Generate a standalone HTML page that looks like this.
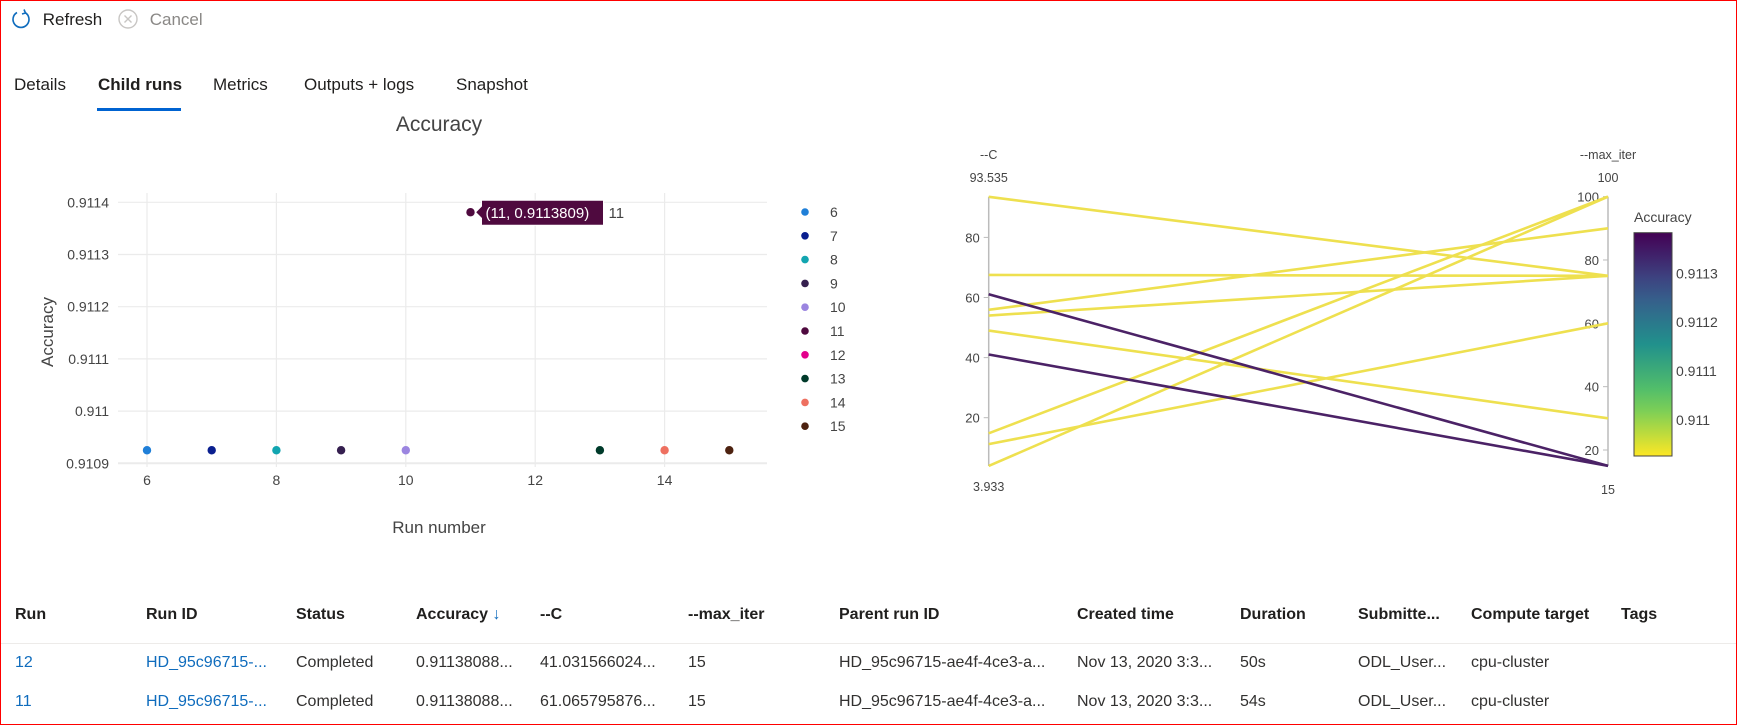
<!DOCTYPE html>
<html><head><meta charset="utf-8"><style>
body{margin:0;width:1737px;height:725px;overflow:hidden;background:#fff;font-family:"Liberation Sans",sans-serif;color:#201f1e}
#frame{position:absolute;left:0;top:0;width:1735px;height:723px;border:1px solid #f00}
.t{position:absolute;white-space:nowrap}
.th{position:absolute;top:606px;font-size:16px;font-weight:600;color:#201f1e}
.td{position:absolute;font-size:16px;color:#323130}
a.td{color:#0f6cbd;text-decoration:none}
</style></head><body>
<div id="frame"></div>
<div class="t" style="left:10px;top:8px;font-size:17px;">
<svg width="22" height="22" style="vertical-align:-5px"><path d="M15 4.5A8 8 0 1 1 7 4.5" fill="none" stroke="#0f6cbd" stroke-width="1.6"/><path d="M14 1.5L15.5 5 12 6" fill="none" stroke="#0f6cbd" stroke-width="1.6"/></svg>
<span style="margin-left:6px">Refresh</span></div>
<div class="t" style="left:117px;top:8px;font-size:17px;color:#8a8886">
<svg width="22" height="22" style="vertical-align:-5px"><circle cx="11" cy="11" r="9" fill="none" stroke="#c8c6c4" stroke-width="1.4"/><path d="M7.5 7.5L14.5 14.5M14.5 7.5L7.5 14.5" stroke="#c8c6c4" stroke-width="1.4"/></svg>
<span style="margin-left:6px">Cancel</span></div>
<div class="t" style="left:14px;top:75px;font-size:17px">Details</div>
<div class="t" style="left:98px;top:75px;font-size:17px;font-weight:bold">Child runs</div>
<div style="position:absolute;left:97px;top:108px;width:84px;height:3px;background:#0063d1"></div>
<div class="t" style="left:213px;top:75px;font-size:17px">Metrics</div>
<div class="t" style="left:304px;top:75px;font-size:17px">Outputs + logs</div>
<div class="t" style="left:456px;top:75px;font-size:17px">Snapshot</div>

<svg id="sc" width="1737" height="560" style="position:absolute;left:0;top:0"></svg>

<div>
<div class="th" style="left:15px">Run</div>
<div class="th" style="left:146px">Run ID</div>
<div class="th" style="left:296px">Status</div>
<div class="th" style="left:416px">Accuracy <span style="color:#0f6cbd;font-weight:normal">↓</span></div>
<div class="th" style="left:540px">--C</div>
<div class="th" style="left:688px">--max_iter</div>
<div class="th" style="left:839px">Parent run ID</div>
<div class="th" style="left:1077px">Created time</div>
<div class="th" style="left:1240px">Duration</div>
<div class="th" style="left:1358px">Submitte...</div>
<div class="th" style="left:1471px">Compute target</div>
<div class="th" style="left:1621px">Tags</div>
<div style="position:absolute;left:1px;top:643px;width:1735px;height:1px;background:#edebe9"></div>
<div>
<a class="td" style="left:15px;top:654px">12</a>
<a class="td" style="left:146px;top:654px">HD_95c96715-...</a>
<div class="td" style="left:296px;top:654px">Completed</div>
<div class="td" style="left:416px;top:654px">0.91138088...</div>
<div class="td" style="left:540px;top:654px">41.031566024...</div>
<div class="td" style="left:688px;top:654px">15</div>
<div class="td" style="left:839px;top:654px">HD_95c96715-ae4f-4ce3-a...</div>
<div class="td" style="left:1077px;top:654px">Nov 13, 2020 3:3...</div>
<div class="td" style="left:1240px;top:654px">50s</div>
<div class="td" style="left:1358px;top:654px">ODL_User...</div>
<div class="td" style="left:1471px;top:654px">cpu-cluster</div>
</div>
<div>
<a class="td" style="left:15px;top:693px">11</a>
<a class="td" style="left:146px;top:693px">HD_95c96715-...</a>
<div class="td" style="left:296px;top:693px">Completed</div>
<div class="td" style="left:416px;top:693px">0.91138088...</div>
<div class="td" style="left:540px;top:693px">61.065795876...</div>
<div class="td" style="left:688px;top:693px">15</div>
<div class="td" style="left:839px;top:693px">HD_95c96715-ae4f-4ce3-a...</div>
<div class="td" style="left:1077px;top:693px">Nov 13, 2020 3:3...</div>
<div class="td" style="left:1240px;top:693px">54s</div>
<div class="td" style="left:1358px;top:693px">ODL_User...</div>
<div class="td" style="left:1471px;top:693px">cpu-cluster</div>
</div>
</div>

<script>
const runs = [6,7,8,9,10,11,12,13,14,15];
const accuracy = [0.910925,0.910925,0.910925,0.910925,0.910925,0.911381,0.911381,0.910925,0.910925,0.910925];
const cParam = [93.5,67.5,55.9,54.0,49.0,61.07,41.03,14.8,11.2,3.933];
const maxIter = [75,75,90,75,30,15,15,100,60,100];
const runColors = ['#1f7fd8','#0a1f8f','#12a5b0','#351f4f','#9b85e0','#4f0a3f','#e3008c','#003a2a','#ee7060','#4d2210'];
const xTicks = [6,8,10,12,14];
const yTicks = [0.9109,0.911,0.9111,0.9112,0.9113,0.9114];
const yTickLabels = ['0.9109','0.911','0.9111','0.9112','0.9113','0.9114'];
const cTicks = [20,40,60,80];
const iterTicks = [20,40,60,80,100];
const cbTicks = [0.911,0.9111,0.9112,0.9113];
const shownRuns = [6,7,8,9,10,11,13,14,15];

const NS='http://www.w3.org/2000/svg';
const svg=document.getElementById('sc');
function mk(tag,attrs,parent){const e=document.createElementNS(NS,tag);for(const k in attrs)e.setAttribute(k,attrs[k]);(parent||svg).appendChild(e);return e;}
function txt(x,y,s,attrs){const e=mk('text',Object.assign({x:x,y:y,'font-family':'Liberation Sans, sans-serif'},attrs||{}));e.textContent=s;return e;}

// scatter axes
const xS=v=>147+(v-6)*64.7;
const yS=v=>463.3-(v-0.9109)/0.0001*52.2;
const title=txt(439,131,'Accuracy',{'font-size':21,'text-anchor':'middle',fill:'#444'});


xTicks.forEach(t=>{
  const l=mk('line',{x1:xS(t),x2:xS(t),y1:193,y2:467,stroke:'#ebebeb','stroke-width':1.2});
  
  
  const tl=txt(xS(t),485,String(t),{'font-size':14,'text-anchor':'middle',fill:'#444'});
  
  
});
yTicks.forEach((t,i)=>{
  const l=mk('line',{x1:118,x2:767,y1:yS(t),y2:yS(t),stroke:'#ebebeb','stroke-width':i==0?2:1.2});
  
  
  const tl=txt(109,yS(t)+5,yTickLabels[i],{'font-size':14,'text-anchor':'end',fill:'#444'});
  
  
});
const xt=txt(439,533,'Run number',{'font-size':17,'text-anchor':'middle',fill:'#444'});


const yt=txt(0,0,'Accuracy',{'font-size':17,'text-anchor':'middle',fill:'#444',transform:'translate(53,332) rotate(-90)'});


runs.forEach((r,i)=>{
  if(shownRuns.indexOf(r)<0)return;
  const c=mk('circle',{cx:xS(r),cy:yS(accuracy[i]),r:4.2,fill:runColors[i]});
  
  
});
// tooltip on run 11
const i11=runs.indexOf(11);
const tx=xS(11), ty=yS(accuracy[i11]);
const tip=mk('g',{});


mk('path',{d:`M${tx+5} ${ty} L${tx+11} ${ty-6} L${tx+11} ${ty-12} L${tx+133} ${ty-12} L${tx+133} ${ty+13} L${tx+11} ${ty+13} L${tx+11} ${ty+6} Z`,fill:runColors[i11],stroke:'#fff','stroke-width':1},tip);
const t1=txt(tx+15,ty+6,'(11, '+accuracy[i11].toFixed(7).replace(/0+$/,'')+'09'.slice(0,0)+')',{'font-size':15,fill:'#fff'},);
t1.textContent='(11, 0.9113809)';
tip.appendChild(t1);
tip.appendChild(txt(tx+138,ty+6,'11',{'font-size':15,fill:'#444'}));
// legend
runs.forEach((r,i)=>{
  const g=mk('g',{});
  
  
  const y=212+i*23.8;
  mk('circle',{cx:805,cy:y,r:3.8,fill:runColors[i]},g);
  g.appendChild(txt(830,y+5,String(r),{'font-size':14,fill:'#444'}));
});

// parallel coordinates
const AX1=988.7, AX2=1608;
const cY=v=>417.7-(v-20)*3.005;
const iY=v=>450-(v-20)*3.167;
const cmin=3.933,cmax=93.535;
const accMin=0.910926, accMax=0.911383;
function viridis(t){const st=[[253,231,37],[94,201,98],[33,145,140],[59,82,139],[68,1,84]];const p=t*4,i=Math.min(3,Math.floor(p)),f=p-i;return 'rgb('+st[i].map((v,k)=>Math.round(v+(st[i+1][k]-v)*f)).join(',')+')';}
[[AX1,cY(cmax),cY(cmin)],[AX2,iY(100),iY(15)]].forEach((a,k)=>{
  const l=mk('line',{x1:a[0],x2:a[0],y1:a[1],y2:a[2],stroke:'#bbb','stroke-width':1.5});
  
  
});
cTicks.forEach(t=>{mk('line',{x1:AX1-5,x2:AX1,y1:cY(t),y2:cY(t),stroke:'#bbb'});const e=txt(AX1-9,cY(t)+5,String(t),{'font-size':13,'text-anchor':'end',fill:'#444'});});
iterTicks.forEach(t=>{mk('line',{x1:AX2-5,x2:AX2,y1:iY(t),y2:iY(t),stroke:'#bbb'});const e=txt(AX2-9,iY(t)+5,String(t),{'font-size':13,'text-anchor':'end',fill:'#444'});});
[[AX1,155,'--C'],[AX1,178,'93.535'],[AX1,487,'3.933'],[AX2,155,'--max_iter'],[AX2,178,'100'],[AX2,490,'15']].forEach(a=>{
  const e=txt(a[0],a[1]+4,a[2],{'font-size':12.5,'text-anchor':'middle',fill:'#444'});
  
  
});
const order=runs.map((r,i)=>i).sort((a,b)=>accuracy[a]-accuracy[b]);
order.forEach(i=>{
  const t=(accuracy[i]-accMin)/(accMax-accMin);
  const l=mk('line',{x1:AX1,y1:cY(cParam[i]),x2:AX2,y2:iY(maxIter[i]),stroke:t>0.5?'#4b2266':'#eee04f','stroke-width':2.6});
  
  
});
// colorbar
const defs=mk('defs',{});
const gr=mk('linearGradient',{id:'vir',x1:0,y1:1,x2:0,y2:0},defs);
for(let k=0;k<=10;k++)mk('stop',{offset:k/10,'stop-color':viridis(k/10)},gr);
const cbTop=232.7,cbBot=456;
const cb=mk('rect',{x:1634,y:cbTop,width:38,height:cbBot-cbTop,fill:'url(#vir)',stroke:'#444','stroke-width':1});


const cbt=txt(1634,222,'Accuracy',{'font-size':14,fill:'#444'});


const cbY=v=>cbBot-(v-accMin)/(accMax-accMin)*(cbBot-cbTop);
cbTicks.forEach(t=>{const e=txt(1676,cbY(t)+5,String(t),{'font-size':14,fill:'#444'});});
</script>
</body></html>
